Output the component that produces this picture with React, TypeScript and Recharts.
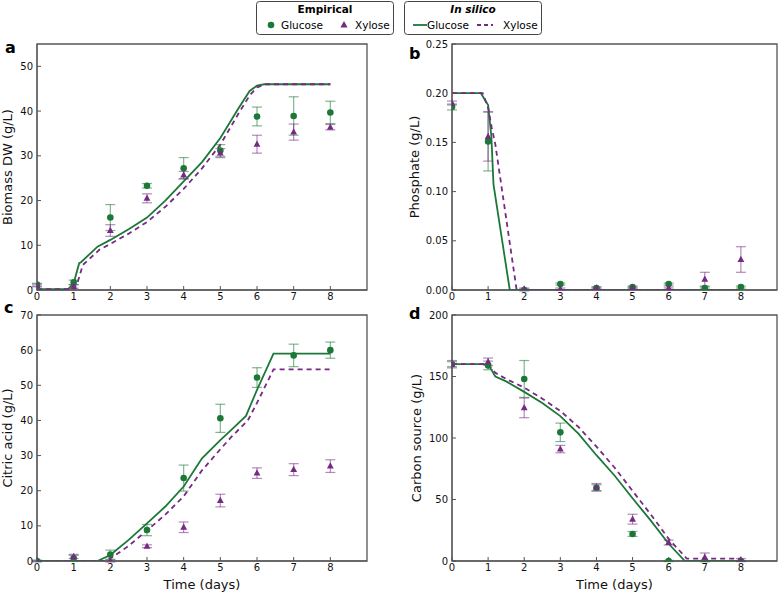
import React from "react";
import {
  ComposedChart,
  Line,
  Scatter,
  ErrorBar,
  XAxis,
  YAxis,
  ReferenceArea,
} from "recharts";

const GREEN = "#1b7837";
const PURPLE = "#762a83";
const FONT = "DejaVu Sans, Verdana, sans-serif";

const days = [0, 1, 2, 3, 4, 5, 6, 7, 8];

// a: biomass
const bioGluEmp = [1.2, 1.7, 16.2, 23.3, 27.2, 31.2, 38.8, 38.9, 39.7];
const bioGluErr = [0.3, 0.5, 2.9, 0.5, 2.4, 1.3, 2.1, 4.3, 2.5];
const bioXylEmp = [1.0, 0.8, 13.3, 20.5, 25.7, 30.6, 32.6, 35.3, 36.4];
const bioXylErr = [0.3, 0.4, 1.3, 1.0, 0.8, 1.0, 2.0, 1.8, 0.6];
const bioGluT = [0, 0.85, 1.0, 1.15, 1.2, 1.65, 2, 2.5, 3, 3.5, 4, 4.5, 5, 5.5, 5.8, 6, 6.2, 8];
const bioGluY = [0.2, 0.2, 1.5, 6.0, 6.2, 9.7, 11.2, 13.6, 16.2, 20.0, 24.3, 28.6, 34.0, 40.7, 44.5, 45.7, 46, 46];
const bioXylT = [0, 1.0, 1.1, 1.25, 1.7, 2, 2.5, 3, 3.5, 4, 4.5, 5, 5.5, 5.8, 6, 6.25, 8];
const bioXylY = [0.2, 0.2, 1.5, 5.6, 9.0, 10.3, 12.6, 15.2, 18.6, 22.6, 27.2, 32.5, 39.5, 43.5, 45.3, 46, 46];

// b: phosphate
const phoGluEmp = [0.186, 0.151, 0.0, 0.006, 0.002, 0.003, 0.006, 0.002, 0.003];
const phoGluErr = [0.003, 0.03, 0.001, 0.001, 0.001, 0.001, 0.001, 0.001, 0.001];
const phoXylEmp = [0.19, 0.156, 0.001, 0.001, 0.002, 0.002, 0.002, 0.011, 0.031];
const phoXylErr = [0.002, 0.025, 0.001, 0.001, 0.001, 0.001, 0.001, 0.007, 0.013];
const phoGluT = [0, 0.8, 1.0, 1.09, 1.15, 1.6, 8];
const phoGluY = [0.2, 0.2, 0.188, 0.156, 0.107, 0, 0];
const phoXylT = [0, 0.85, 1.0, 1.1, 1.2, 1.79, 8];
const phoXylY = [0.2, 0.2, 0.185, 0.165, 0.148, 0, 0];

// c: citric acid
const citGluEmp = [0, 0.8, 1.8, 8.8, 23.6, 40.6, 52.2, 58.5, 60.0];
const citGluErr = [0.2, 0.8, 1.3, 1.6, 3.7, 4.0, 2.8, 3.2, 2.3];
const citXylEmp = [0, 1.3, 0, 4.2, 9.6, 17.2, 25.0, 26.0, 27.0];
const citXylErr = [0.2, 0.6, 0.3, 0.4, 1.5, 1.8, 1.5, 1.7, 1.8];
const citGluT = [0, 1.65, 2, 2.5, 3, 3.5, 4, 4.5, 5, 5.3, 5.7, 6, 6.45, 8];
const citGluY = [0, 0, 1.7, 6.0, 10.7, 15.5, 21.2, 29.2, 34.4, 37.3, 41.3, 48.7, 59, 59];
const citXylT = [0, 1.85, 2, 2.5, 3, 3.5, 4, 4.5, 5, 5.3, 5.75, 6, 6.45, 8];
const citXylY = [0, 0, 0.7, 4.3, 8.7, 13.2, 18.4, 25.8, 31.8, 35.3, 40, 45, 54.5, 54.5];

// d: carbon source
const carGluEmp = [160, 159, 148, 104.6, 59.5, 22, 0, 0, 0];
const carGluErr = [2, 3.5, 15, 7.5, 2.5, 2, 0.5, 0.5, 0.5];
const carXylEmp = [160, 162, 124.5, 91, 60, 34, 15, 3, 1];
const carXylErr = [3, 3, 8, 3, 3, 4, 2, 3.5, 1];
const carGluT = [0, 1, 1.1, 1.2, 1.5, 2, 2.5, 3, 3.5, 4, 4.5, 5, 5.5, 6, 6.45, 8];
const carGluY = [160, 160, 155, 150, 146, 137.5, 128.5, 117.8, 103.5, 86, 69.5, 51, 33, 14, 0, 0];
const carXylT = [0, 1, 1.2, 1.5, 2, 2.5, 3, 3.5, 4, 4.5, 5, 5.5, 6, 6.5, 8];
const carXylY = [160, 160, 153, 148, 141, 132, 122, 109, 93, 76, 57, 38, 18, 2, 2];

const pts = (ys: number[], errs: number[]) =>
  days.map((t, i) => ({ t, y: ys[i], err: errs[i] }));
const curve = (ts: number[], ys: number[]) => ts.map((t, i) => ({ t, y: ys[i] }));

const Dot = (props: any) => {
  const { cx, cy } = props;
  if (cx == null || cy == null) return null;
  return <circle cx={cx} cy={cy} r={3.3} fill={GREEN} />;
};

const Tri = (props: any) => {
  const { cx, cy } = props;
  if (cx == null || cy == null) return null;
  const r = 3.8;
  return (
    <polygon
      points={`${cx},${cy - r} ${cx - r * 0.9},${cy + r * 0.65} ${cx + r * 0.9},${cy + r * 0.65}`}
      fill={PURPLE}
    />
  );
};

type PanelProps = {
  left: number;
  top: number;
  width: number;
  height: number;
  yMax: number;
  yTicks: number[];
  yLabel: string;
  yAxisWidth: number;
  labelOffset: number;
  fmt?: (v: number) => string;
  showXLabel: boolean;
  gluEmp: { t: number; y: number; err: number }[];
  xylEmp: { t: number; y: number; err: number }[];
  gluModel: { t: number; y: number }[];
  xylModel: { t: number; y: number }[];
};

const axisColor = "#555";
const tickStyle = { fill: "#111", fontSize: 10, fontFamily: FONT };

const Panel: React.FC<PanelProps> = (p) => {
  return (
    <div style={{ position: "absolute", left: p.left, top: p.top }}>
      <ComposedChart
        width={p.width}
        height={p.height}
        margin={{ top: 14, right: 8, bottom: 0, left: 0 }}
      >
        <XAxis
          xAxisId="b"
          dataKey="t"
          type="number"
          domain={[0, 9]}
          ticks={days}
          allowDataOverflow
          height={p.showXLabel ? 35 : 25}
          tickSize={-4}
          tickMargin={7}
          tick={tickStyle}
          stroke={axisColor}
          label={
            p.showXLabel
              ? {
                  value: "Time (days)",
                  position: "insideBottom",
                  offset: 7,
                  style: { fontSize: 13, fontFamily: FONT, fill: "#111" },
                }
              : undefined
          }
        />
        <XAxis
          xAxisId="top"
          orientation="top"
          type="number"
          domain={[0, 9]}
          ticks={days}
          allowDataOverflow
          height={0}
          tickSize={-4}
          tick={false}
          stroke={axisColor}
        />
        <YAxis
          yAxisId="l"
          type="number"
          domain={[0, p.yMax]}
          ticks={p.yTicks}
          allowDataOverflow
          width={p.yAxisWidth}
          tickSize={-4}
          tickMargin={8}
          tick={tickStyle}
          tickFormatter={p.fmt}
          stroke={axisColor}
          label={{
            value: p.yLabel,
            angle: -90,
            position: "insideLeft",
            offset: p.labelOffset,
            style: { textAnchor: "middle", fontSize: 13, fontFamily: FONT, fill: "#111" },
          }}
        />
        <YAxis
          yAxisId="r"
          orientation="right"
          type="number"
          domain={[0, p.yMax]}
          ticks={p.yTicks}
          allowDataOverflow
          width={0}
          tickSize={-4}
          tick={false}
          stroke={axisColor}
        />
        <ReferenceArea
          xAxisId="b"
          yAxisId="l"
          x1={0}
          x2={9}
          y1={0}
          y2={p.yMax}
          fill="none"
          stroke={axisColor}
          strokeWidth={1.3}
          ifOverflow="visible"
        />
        <Line
          xAxisId="b"
          yAxisId="l"
          data={p.gluModel}
          dataKey="y"
          type="linear"
          stroke={GREEN}
          strokeWidth={1.8}
          dot={false}
          isAnimationActive={false}
        />
        <Line
          xAxisId="b"
          yAxisId="l"
          data={p.xylModel}
          dataKey="y"
          type="linear"
          stroke={PURPLE}
          strokeWidth={1.8}
          strokeDasharray="5 4"
          dot={false}
          isAnimationActive={false}
        />
        <Scatter
          xAxisId="b"
          yAxisId="l"
          data={p.gluEmp}
          dataKey="y"
          shape={<Dot />}
          isAnimationActive={false}
        >
          <ErrorBar
            dataKey="err"
            direction="y"
            width={5}
            stroke={GREEN}
            strokeOpacity={0.55}
            strokeWidth={1.2}
          />
        </Scatter>
        <Scatter
          xAxisId="b"
          yAxisId="l"
          data={p.xylEmp}
          dataKey="y"
          shape={<Tri />}
          isAnimationActive={false}
        >
          <ErrorBar
            dataKey="err"
            direction="y"
            width={5}
            stroke={PURPLE}
            strokeOpacity={0.55}
            strokeWidth={1.2}
          />
        </Scatter>
      </ComposedChart>
    </div>
  );
};

const letterStyle: React.CSSProperties = {
  position: "absolute",
  fontFamily: FONT,
  fontWeight: "bold",
  fontSize: 16,
  color: "#000",
  lineHeight: 1,
};

const Legend: React.FC = () => (
  <svg
    width={300}
    height={40}
    style={{ position: "absolute", left: 250, top: 0 }}
    fontFamily={FONT}
    fontSize={10.5}
  >
    <rect x={6.5} y={1.5} width={137} height={33} rx={3} fill="#fff" stroke="#444" strokeWidth={1} />
    <text x={75} y={13} textAnchor="middle" fontWeight="bold" fill="#000">
      Empirical
    </text>
    <circle cx={21} cy={25} r={3.3} fill={GREEN} />
    <text x={31} y={29} fill="#000">Glucose</text>
    <polygon points="94,21 90.4,27.6 97.6,27.6" fill={PURPLE} />
    <text x={105} y={29} fill="#000">Xylose</text>

    <rect x={154.5} y={1.5} width={137} height={33} rx={3} fill="#fff" stroke="#444" strokeWidth={1} />
    <text x={223} y={13} textAnchor="middle" fontWeight="bold" fontStyle="italic" fill="#000">
      In silico
    </text>
    <line x1={163} y1={25} x2={177} y2={25} stroke={GREEN} strokeWidth={1.8} />
    <text x={177} y={29} fill="#000">Glucose</text>
    <line x1={227} y1={25} x2={243} y2={25} stroke={PURPLE} strokeWidth={1.8} strokeDasharray="4 3" />
    <text x={253} y={29} fill="#000">Xylose</text>
  </svg>
);

export default function App() {
  const two = (v: number) => v.toFixed(2);
  return (
    <div
      style={{
        position: "absolute",
        left: 0,
        top: 0,
        width: 784,
        height: 596,
        background: "#fff",
        overflow: "hidden",
      }}
    >
      <Panel
        left={0}
        top={30}
        width={375}
        height={285}
        yMax={55}
        yTicks={[0, 10, 20, 30, 40, 50]}
        yLabel="Biomass DW (g/L)"
        yAxisWidth={37}
        labelOffset={7}
        showXLabel={false}
        gluEmp={pts(bioGluEmp, bioGluErr)}
        xylEmp={pts(bioXylEmp, bioXylErr)}
        gluModel={curve(bioGluT, bioGluY)}
        xylModel={curve(bioXylT, bioXylY)}
      />
      <Panel
        left={400}
        top={30}
        width={385}
        height={285}
        yMax={0.25}
        yTicks={[0, 0.05, 0.1, 0.15, 0.2, 0.25]}
        yLabel="Phosphate (g/L)"
        yAxisWidth={52}
        labelOffset={14}
        fmt={two}
        showXLabel={false}
        gluEmp={pts(phoGluEmp, phoGluErr)}
        xylEmp={pts(phoXylEmp, phoXylErr)}
        gluModel={curve(phoGluT, phoGluY)}
        xylModel={curve(phoXylT, phoXylY)}
      />
      <Panel
        left={0}
        top={301}
        width={375}
        height={295}
        yMax={70}
        yTicks={[0, 10, 20, 30, 40, 50, 60, 70]}
        yLabel="Citric acid (g/L)"
        yAxisWidth={37}
        labelOffset={7}
        showXLabel={true}
        gluEmp={pts(citGluEmp, citGluErr)}
        xylEmp={pts(citXylEmp, citXylErr)}
        gluModel={curve(citGluT, citGluY)}
        xylModel={curve(citXylT, citXylY)}
      />
      <Panel
        left={400}
        top={301}
        width={385}
        height={295}
        yMax={200}
        yTicks={[0, 50, 100, 150, 200]}
        yLabel="Carbon source (g/L)"
        yAxisWidth={52}
        labelOffset={16}
        showXLabel={true}
        gluEmp={pts(carGluEmp, carGluErr)}
        xylEmp={pts(carXylEmp, carXylErr)}
        gluModel={curve(carGluT, carGluY)}
        xylModel={curve(carXylT, carXylY)}
      />
      <div style={{ ...letterStyle, left: 5, top: 40 }}>a</div>
      <div style={{ ...letterStyle, left: 409, top: 46 }}>b</div>
      <div style={{ ...letterStyle, left: 4, top: 300 }}>c</div>
      <div style={{ ...letterStyle, left: 409, top: 306 }}>d</div>
      <Legend />
    </div>
  );
}
